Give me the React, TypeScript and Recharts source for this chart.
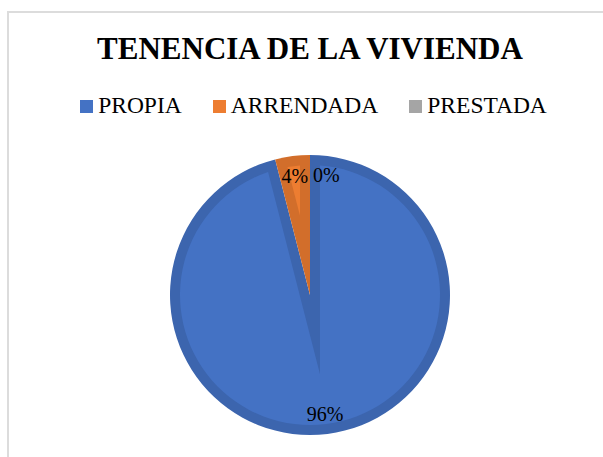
import React from "react";
import { PieChart, Pie, Cell, Legend, Sector } from "recharts";

const names = ["PROPIA", "ARRENDADA", "PRESTADA"];
const values = [96, 4, 0];
const lightColors = ["#4472c4", "#ed7d31", "#a5a5a5"];
const darkColors = ["#3c65ae", "#d26e2b", "#8f8f8f"];
const title = "TENENCIA DE LA VIVIENDA";

const data = names.map((n, i) => ({ name: n, value: values[i] }));

const FONT = "'Liberation Serif', 'Times New Roman', serif";
const RAD = Math.PI / 180;
const BAND = 10;

function u(a: number): [number, number] {
  return [Math.cos(a * RAD), -Math.sin(a * RAD)];
}

function insetPath(cx: number, cy: number, R: number, a1: number, a2: number, d: number): string | null {
  const s = Math.abs(a1 - a2);
  if (s < 0.01) return null;
  const hi = Math.max(a1, a2);
  const lo = Math.min(a1, a2);
  const n1 = u(hi - 90);
  const n2 = u(lo + 90);
  const r = R - d;
  const t = Math.sqrt(r * r - d * d);
  const d1 = u(hi);
  const d2 = u(lo);
  const P1 = [cx + d * n1[0] + t * d1[0], cy + d * n1[1] + t * d1[1]];
  const P2 = [cx + d * n2[0] + t * d2[0], cy + d * n2[1] + t * d2[1]];
  const mid = (hi + lo) / 2;
  const k = d / Math.sin((s / 2) * RAD);
  const m = u(mid);
  const A = [cx + k * m[0], cy + k * m[1]];
  const span = s - 2 * Math.asin(d / r) / RAD;
  const large = span > 180 ? 1 : 0;
  return `M${A[0]},${A[1]} L${P1[0]},${P1[1]} A${r},${r} 0 ${large} 1 ${P2[0]},${P2[1]} Z`;
}

const renderSector = (props: any) => {
  const { cx, cy, outerRadius, startAngle, endAngle, index, name } = props;
  let idx = typeof index === "number" ? index : names.indexOf(name ?? props.payload?.name);
  if (idx < 0) idx = 0;
  const p = insetPath(cx, cy, outerRadius, startAngle, endAngle, BAND);
  if (!p) return <g />;
  return (
    <g>
      <Sector {...props} fill={darkColors[idx]} stroke="none" />
      <path d={p} fill={lightColors[idx]} stroke="none" />
    </g>
  );
};

const renderLabel = (props: any) => {
  const { cx, cy, midAngle, value } = props;
  const r = 120;
  let x = cx + r * Math.cos(midAngle * RAD);
  const y = cy - r * Math.sin(midAngle * RAD);
  let anchor: "middle" | "start" = "middle";
  if (value === 0) {
    anchor = "start";
    x += 3;
  }
  return (
    <text
      x={x}
      y={y}
      textAnchor={anchor}
      dominantBaseline="central"
      fill="#000000"
      fontSize={20}
      fontFamily={FONT}
    >
      {`${value}%`}
    </text>
  );
};

const renderLegend = () => (
  <div
    style={{
      display: "flex",
      justifyContent: "center",
      alignItems: "center",
      fontFamily: FONT,
      fontSize: 23.5,
      lineHeight: "23.5px",
      color: "#000",
      paddingLeft: 24,
    }}
  >
    {names.map((n, i) => (
      <div
        key={n}
        style={{ display: "flex", alignItems: "center", marginRight: i < names.length - 1 ? 31 : 0 }}
      >
        <div style={{ width: 13, height: 13, background: lightColors[i], marginRight: 5, marginTop: 2 }} />
        <span>{n}</span>
      </div>
    ))}
  </div>
);

export default function App() {
  return (
    <div style={{ position: "fixed", left: 0, top: 0, width: 603, height: 457, overflow: "hidden", background: "#fff" }}>
      <div
        style={{
          position: "absolute",
          left: 7,
          top: 11,
          width: 700,
          height: 600,
          border: "2px solid #dcdcdc",
          boxSizing: "border-box",
        }}
      />
      <div
        style={{
          position: "absolute",
          left: 0,
          top: 33,
          width: 620,
          textAlign: "center",
          fontFamily: FONT,
          fontWeight: "bold",
          fontSize: 31,
          lineHeight: "31px",
          color: "#000",
        }}
      >
        {title}
      </div>
      <div style={{ position: "absolute", left: 0, top: 0 }}>
        <PieChart width={603} height={457} margin={{ top: 0, right: 0, bottom: 0, left: 0 }}>
          <Legend
            verticalAlign="bottom"
            content={renderLegend}
            wrapperStyle={{ position: "absolute", top: 94, left: 0, bottom: "auto", width: 603, height: 26 }}
          />
          <Pie
            data={data}
            dataKey="value"
            nameKey="name"
            cx={310}
            cy={295}
            innerRadius={0}
            outerRadius={140}
            startAngle={90}
            endAngle={-270}
            stroke="none"
            shape={renderSector}
            label={renderLabel}
            labelLine={false}
            isAnimationActive={false}
          >
            {data.map((d, i) => (
              <Cell key={d.name} fill={lightColors[i]} />
            ))}
          </Pie>
        </PieChart>
      </div>
    </div>
  );
}
